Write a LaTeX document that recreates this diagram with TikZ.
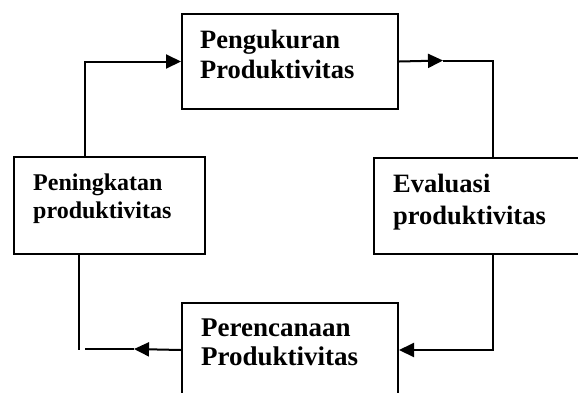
\documentclass[tikz,border=0pt]{standalone}
\usepackage{fontspec}
\setmainfont{Liberation Serif}
\usetikzlibrary{arrows.meta}
\tikzset{
  box/.style={draw, line width=2pt, inner sep=0pt, anchor=north west},
  conn/.style={line width=2pt},
  tip/.style={-{Triangle[length=15pt,width=14pt]}},
  lbig/.style={inner sep=0pt, anchor=base west, font=\fontsize{26.5}{30}\selectfont\bfseries},
  lsmall/.style={inner sep=0pt, anchor=base west, font=\fontsize{24}{28}\selectfont\bfseries},
}
\begin{document}
\begin{tikzpicture}[x=1pt,y=-1pt]
\useasboundingbox (0,0) rectangle (578,392);
\clip (0,0) rectangle (578,392);
% boxes
\node[box, minimum width=216pt, minimum height=95pt] (pu) at (181,13) {};
\node[box, minimum width=191pt, minimum height=97pt] (pl) at (13,156) {};
\node[box, minimum width=212pt, minimum height=96pt] (pe) at (373,157) {};
\node[box, minimum width=216pt, minimum height=94pt] (pp) at (181,302) {};
% texts
\node[lbig] (t1) at (200,48) {Pengukuran};
\node[lbig] (t2) at (200,78) {Produktivitas};
\node[lsmall] (t3) at (33,190) {Peningkatan};
\node[lsmall] (t4) at (33,218) {produktivitas};
\node[lbig] (t5) at (393,192) {Evaluasi};
\node[lbig] (t6) at (393,224) {produktivitas};
\node[lbig, font=\fontsize{27}{30}\selectfont\bfseries] (t7) at (201,336) {Perencanaan};
\node[lbig, font=\fontsize{27}{30}\selectfont\bfseries] (t8) at (201,365) {Produktivitas};
% free ends
\coordinate (c1) at (443,60.5);
\coordinate (c2) at (134,349);
\coordinate (c3) at (85,349);
\coordinate (c4) at (79,350);
% connectors
\draw[conn,tip] ([xshift=72pt]pl.north west) |- (pu.west);
\draw[conn,tip] (pu.east) -- (c1);
\draw[conn] (c1) -| ([xshift=120pt]pe.north west);
\draw[conn,tip] ([xshift=120pt]pe.south west) |- (pp.east);
\draw[conn,tip] (pp.west) -- (c2);
\draw[conn] (c2) -- (c3);
\draw[conn] ([xshift=66pt]pl.south west) -- (c4);
\end{tikzpicture}
\end{document}
